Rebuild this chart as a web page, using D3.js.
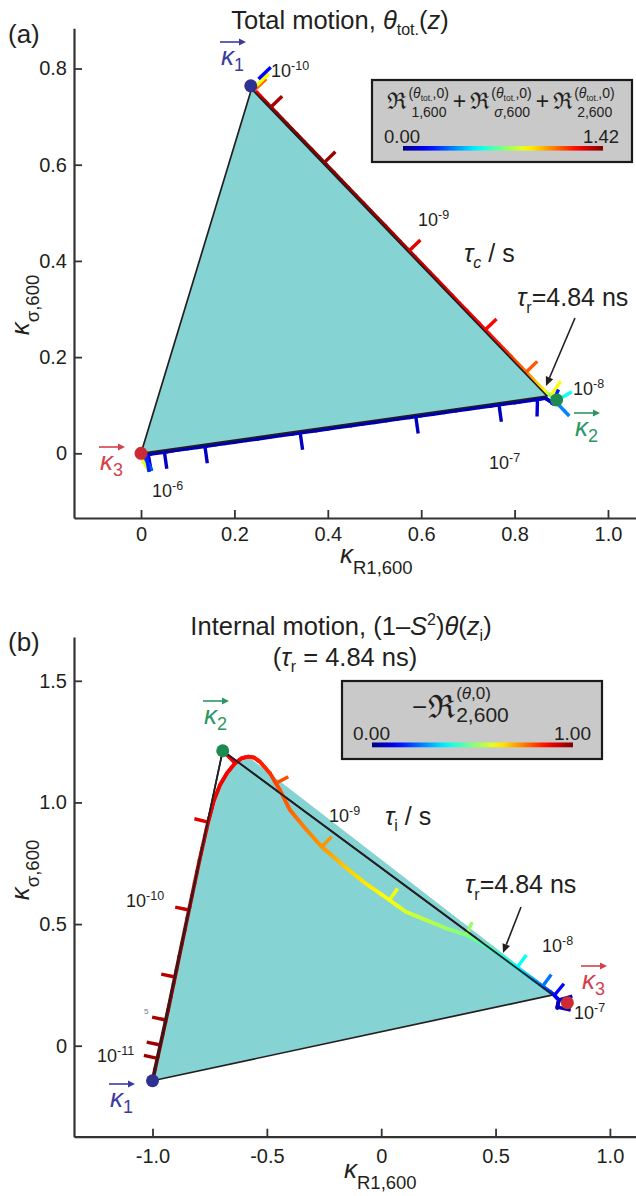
<!DOCTYPE html>
<html><head><meta charset="utf-8">
<script src="https://cdn.jsdelivr.net/npm/d3@7"></script>
<style>
body{margin:0;background:#fff;}
svg{display:block;font-family:"Liberation Sans",Arial,Helvetica,sans-serif;}
text{white-space:pre;}
</style></head><body>
<svg id="fig" width="636" height="1196"></svg>
<script>
// ---------- panel (a): total motion ----------
const aXTicks = [0, 0.2, 0.4, 0.6, 0.8, 1.0];
const aYTicks = [0, 0.2, 0.4, 0.6, 0.8];
// triangle corners [kR1, kSigma]
const aCorners = [[0.2366, 0.7575], [0.8694, 0.1191], [0, 0]];
// kappa vectors k1, k2, k3
const aKappa = [[0.235, 0.764], [0.890, 0.111], [0.0, 0.0]];
// tau_c trajectory [kR1, kSigma, R1 + Rsigma + R2]
const aPath = [
  [0.2386, 0.7595, 1.20], [0.2702, 0.7276, 1.36], [0.3335, 0.6637, 1.41], [0.4285, 0.5680, 1.40],
  [0.5234, 0.4722, 1.37], [0.6183, 0.3764, 1.32], [0.7132, 0.2807, 1.26], [0.7765, 0.2168, 1.20],
  [0.8208, 0.1722, 1.10], [0.8461, 0.1467, 0.98], [0.862, 0.131, 0.92], [0.874, 0.122, 0.80],
  [0.884, 0.116, 0.62], [0.891, 0.110, 0.45], [0.892, 0.103, 0.30], [0.884, 0.1035, 0.16],
  [0.866, 0.1145, 0.09], [0.80, 0.1056, 0.07], [0.65, 0.0851, 0.06], [0.50, 0.0645, 0.06],
  [0.35, 0.0440, 0.06], [0.20, 0.0234, 0.06], [0.08, 0.0070, 0.07], [0.01, -0.0028, 0.09],
  [0.004, -0.006, 0.15]
];
// tau_c tick marks on the trajectory [kR1, kSigma, value]
const aTicks = [
  [0.242, 0.754, 1.10], [0.2473, 0.7647, 0.88], [0.2516, 0.7782, 0.18],
  [0.276, 0.718, 1.36], [0.390, 0.6023, 1.38], [0.572, 0.419, 1.28], [0.735, 0.2547, 1.24],
  [0.8223, 0.1666, 1.12], [0.878, 0.121, 0.88], [0.891, 0.110, 0.55], [0.892, 0.103, 0.36],
  [0.879, 0.1005, 0.22], [0.849, 0.112, 0.12], [0.7666, 0.1008, 0.09], [0.5884, 0.0764, 0.09],
  [0.3409, 0.0425, 0.09], [0.1368, 0.0145, 0.09], [0.0501, 0.0027, 0.09], [0.0155, -0.002, 0.12],
  [-0.002, -0.004, 0.85], [0.006, -0.005, 0.30], [0.011, -0.004, 0.22]
];
const aRange = [0.00, 1.42];

// ---------- panel (b): internal motion ----------
const bXTicks = [-1.0, -0.5, 0, 0.5, 1.0];
const bYTicks = [0, 0.5, 1.0, 1.5];
const bCorners = [[-1.0, -0.144], [-0.693, 1.2125], [0.7512, 0.2088]];
const bKappa = [[-1.0, -0.144], [-0.693, 1.2125], [0.814, 0.177]];
// tau_i trajectory [kR1, kSigma, -R2]
const bPath = [
  [-1.0, -0.144, 1.00], [-0.932, 0.1467, 0.99], [-0.859, 0.4755, 0.97], [-0.7945, 0.763, 0.93],
  [-0.758, 0.915, 0.91], [-0.731, 1.010, 0.89], [-0.705, 1.0715, 0.885], [-0.674, 1.121, 0.88],
  [-0.639, 1.161, 0.875], [-0.609, 1.1825, 0.87], [-0.581, 1.188, 0.865], [-0.556, 1.1845, 0.86],
  [-0.530, 1.167, 0.85], [-0.486, 1.1196, 0.83], [-0.443, 1.051, 0.80], [-0.399, 0.969, 0.78],
  [-0.326, 0.8865, 0.75], [-0.260, 0.818, 0.73], [-0.2094, 0.777, 0.71], [-0.159, 0.7357, 0.68],
  [-0.0708, 0.6687, 0.65], [0.0363, 0.5988, 0.62], [0.1071, 0.5508, 0.59], [0.1959, 0.5166, 0.56],
  [0.2842, 0.4825, 0.53], [0.373, 0.455, 0.50], [0.4617, 0.4098, 0.45], [0.5326, 0.3648, 0.41],
  [0.607, 0.3114, 0.36], [0.6944, 0.2518, 0.26], [0.7512, 0.2128, 0.16], [0.777, 0.1878, 0.09],
  [0.769, 0.155, 0.06]
];
const bTicks = [
  [-0.978, -0.0518, 0.97], [-0.9655, 0.0029, 0.97], [-0.9418, 0.1056, 0.96], [-0.902, 0.2824, 0.95],
  [-0.8408, 0.5577, 0.93], [-0.7573, 0.9194, 0.90], [-0.639, 1.161, 0.89], [-0.46, 1.0784, 0.80],
  [-0.2602, 0.8179, 0.73], [0.0363, 0.5988, 0.62], [0.373, 0.455, 0.52], [0.5982, 0.3268, 0.38],
  [0.7075, 0.2466, 0.24], [0.7599, 0.2104, 0.13], [0.777, 0.188, 0.08], [0.769, 0.159, 0.05]
];
// upper edge of the shaded region beyond the trajectory's crest
const bFillEdge = [[-0.575, 1.183], [0.7512, 0.22]];
const bRange = [0.00, 1.00];

const INK = "#231f20";
const CYAN = "#86d3d4";
const svg = d3.select("#fig");

function jet(t) {
  t = Math.max(0, Math.min(1, t));
  const c = v => Math.round(255 * Math.max(0, Math.min(1, v)));
  return `rgb(${c(1.5 - Math.abs(4 * t - 3))},${c(1.5 - Math.abs(4 * t - 2))},${c(1.5 - Math.abs(4 * t - 1))})`;
}

// text with sub/superscript runs: segs = [text, size, baseline offset, italic, family]
function rich(g, x, y, anchor, segs, fill) {
  const t = g.append("text").attr("x", x).attr("y", y).attr("text-anchor", anchor).attr("fill", fill || INK);
  let cur = 0;
  segs.forEach(s => {
    const [txt, size, off = 0, it = false, fam = null] = s;
    const sp = t.append("tspan").attr("font-size", size).attr("dy", off - cur).text(txt);
    if (it) sp.attr("font-style", "italic");
    if (fam) sp.style("font-family", fam);
    cur = off;
  });
  return t;
}

function decade(g, x, y, exp) {
  rich(g, x, y, "start", [["10", 18, 0], [exp, 12.5, -7]]);
}

function kappaLabel(g, x, y, idx, color) {
  g.append("line").attr("x1", x - 1).attr("x2", x + 22).attr("y1", y - 23).attr("y2", y - 23)
    .attr("stroke", color).attr("stroke-width", 1.6);
  g.append("path").attr("d", `M${x + 25},${y - 23}L${x + 18},${y - 26.5}L${x + 18},${y - 19.5}Z`).attr("fill", color);
  rich(g, x, y, "start", [["κ", 26, 0, true], [idx, 18, 6]], color);
}

function arrow(g, sx, sy, p0, p1) {
  const x0 = sx(p0[0]), y0 = sy(p0[1]), x1 = sx(p1[0]), y1 = sy(p1[1]);
  const dx = x1 - x0, dy = y1 - y0, L = Math.hypot(dx, dy), ux = dx / L, uy = dy / L;
  const hx = x1 - ux * 9, hy = y1 - uy * 9;
  g.append("line").attr("x1", x0).attr("y1", y0).attr("x2", hx).attr("y2", hy).attr("stroke", INK).attr("stroke-width", 1.6);
  g.append("path").attr("d", `M${x1},${y1}L${hx - uy * 4},${hy + ux * 4}L${hx + uy * 4},${hy - ux * 4}Z`).attr("fill", INK);
}

function axes(g, sx, sy, xt, yt, xfmt, yfmt, xpad) {
  const xa = d3.axisBottom(sx).tickValues(xt).tickFormat(xfmt).tickSizeInner(-8).tickSizeOuter(0).tickPadding(xpad);
  const ya = d3.axisLeft(sy).tickValues(yt).tickFormat(yfmt).tickSizeInner(-8).tickSizeOuter(0).tickPadding(7);
  const gx = g.append("g").attr("transform", `translate(0,${sy.range()[0]})`).call(xa);
  const gy = g.append("g").attr("transform", `translate(${sx.range()[0]},0)`).call(ya);
  [gx, gy].forEach(a => {
    a.select(".domain").attr("stroke", "#333").attr("stroke-width", 2.2);
    a.selectAll(".tick line").attr("stroke", "#333").attr("stroke-width", 1.8);
    a.selectAll(".tick text").attr("font-size", 20).attr("fill", INK)
      .style("font-family", '"Liberation Sans",Arial,sans-serif');
  });
}

function colourPath(g, sx, sy, path, vmax, width) {
  for (let i = 0; i < path.length - 1; i++) {
    const a = path[i], b = path[i + 1], n = 6;
    for (let k = 0; k < n; k++) {
      const t0 = k / n, t1 = (k + 1) / n;
      const v = a[2] + (b[2] - a[2]) * (t0 + t1) / 2;
      g.append("line")
        .attr("x1", sx(a[0] + (b[0] - a[0]) * t0)).attr("y1", sy(a[1] + (b[1] - a[1]) * t0))
        .attr("x2", sx(a[0] + (b[0] - a[0]) * t1)).attr("y2", sy(a[1] + (b[1] - a[1]) * t1))
        .attr("stroke", jet(v / vmax)).attr("stroke-width", width).attr("stroke-linecap", "round");
    }
  }
}

function ticks(g, sx, sy, path, corners, list, vmax, len, width) {
  const P = path.map(p => [sx(p[0]), sy(p[1])]);
  const C = corners.map(p => [sx(p[0]), sy(p[1])]);
  const cx = d3.mean(C, d => d[0]), cy = d3.mean(C, d => d[1]);
  list.forEach(t => {
    const bx = sx(t[0]), by = sy(t[1]);
    let best = 0, bd = Infinity;
    P.forEach((p, i) => { const d = (p[0] - bx) ** 2 + (p[1] - by) ** 2; if (d < bd) { bd = d; best = i; } });
    const i0 = Math.max(0, best - 1), i1 = Math.min(P.length - 1, best + 1);
    let dx = P[i1][0] - P[i0][0], dy = P[i1][1] - P[i0][1];
    const L = Math.hypot(dx, dy); dx /= L; dy /= L;
    let nx = -dy, ny = dx;
    if (nx * (bx - cx) + ny * (by - cy) < 0) { nx = -nx; ny = -ny; }
    g.append("line").attr("x1", bx).attr("y1", by).attr("x2", bx + nx * len).attr("y2", by + ny * len)
      .attr("stroke", jet(t[2] / vmax)).attr("stroke-width", width);
  });
}

function colourbar(g, id, x0, x1, y, h) {
  const grad = svg.append("defs").append("linearGradient").attr("id", id);
  d3.range(0, 1.0001, 0.05).forEach(t => grad.append("stop").attr("offset", t).attr("stop-color", jet(t)));
  g.append("rect").attr("x", x0).attr("y", y).attr("width", x1 - x0).attr("height", h).attr("fill", `url(#${id})`);
}

function triangle(g, sx, sy, corners) {
  g.append("path").attr("d", d3.line().x(d => sx(d[0])).y(d => sy(d[1]))(corners) + "Z")
    .attr("fill", "none").attr("stroke", INK).attr("stroke-width", 1.7).attr("stroke-linejoin", "round");
}

const KCOL = ["#2e3192", "#1d8a4f", "#cc2b36"];
const KLAB = ["#3b3b9e", "#2b9760", "#d4404c"];
function dots(g, sx, sy, kap) {
  kap.forEach((k, i) => g.append("circle").attr("cx", sx(k[0])).attr("cy", sy(k[1])).attr("r", 6.5).attr("fill", KCOL[i]));
}

// tick labels written with a plain hyphen, as in the printed axes
const fmtTick = d => d === 0 ? "0" : d3.format(".1f")(d).replace("−", "-");

// ================= panel (a) =================
{
  const g = svg.append("g");
  const sx = d3.scaleLinear().domain([-0.1435, 1.0589]).range([74, 635.5]);
  const sy = d3.scaleLinear().domain([-0.1345, 0.8836]).range([518, 28.3]);

  g.append("path").attr("d", d3.line().x(d => sx(d[0])).y(d => sy(d[1]))(aCorners) + "Z").attr("fill", CYAN);
  colourPath(g, sx, sy, aPath, aRange[1], 3.8);
  ticks(g, sx, sy, aPath, aCorners, aTicks, aRange[1], 17, 3.4);
  triangle(g, sx, sy, aCorners);
  arrow(g, sx, sy, [0.9293, 0.2813], [0.8672, 0.140]);
  dots(g, sx, sy, aKappa);
  axes(g, sx, sy, aXTicks, aYTicks, fmtTick, fmtTick, 9);

  rich(g, 8, 43, "start", [["(a)", 26]]);
  rich(g, 340, 29, "middle", [["Total motion, ", 25.5], ["θ", 25.5, 0, true], ["tot.", 16, 6], ["(", 25.5, 0], ["z", 25.5, 0, true], [")", 25.5, 0]]);

  kappaLabel(g, 221, 65, "1", KLAB[0]);
  kappaLabel(g, 575, 436, "2", KLAB[1]);
  kappaLabel(g, 100, 470, "3", KLAB[2]);

  decade(g, 271, 77, "-10");
  decade(g, 418, 226, "-9");
  decade(g, 573, 395, "-8");
  decade(g, 489, 469, "-7");
  decade(g, 152, 497, "-6");

  rich(g, 464, 262, "start", [["τ", 25, 0, true], ["c", 16, 6, true], [" / s", 25, 0]]);
  rich(g, 517, 306, "start", [["τ", 25, 0, true], ["r", 16, 7], ["=4.84 ns", 25, 0]]);

  rich(g, 340, 563, "start", [["κ", 26, 0, true], ["R1,600", 18.5, 11]]);
  rich(g.append("g").attr("transform", "rotate(-90)"), -305, 29, "middle", [["κ", 26, 0, true], ["σ,600", 18.5, 10]]);

  // legend
  const lg = g.append("g");
  lg.append("rect").attr("x", 372).attr("y", 80).attr("width", 260).attr("height", 82)
    .attr("fill", "#c9c9c9").attr("stroke", "#1a1a1a").attr("stroke-width", 2.2);
  const f = lg.append("g");
  let x = 0;
  const subs = [[["1,600", 14]], [["σ", 14, 0, true], [",600", 14]], [["2,600", 14]]];
  subs.forEach((sb, i) => {
    if (i > 0) {
      const p = rich(f, x + 4, 109, "start", [["+", 23]]);
      x += 4 + p.node().getComputedTextLength() + 4;
    }
    const r = f.append("text").attr("x", x).attr("y", 109).attr("font-size", 23).attr("fill", INK)
      .style("font-family", '"DejaVu Serif",serif').text("ℜ");
    const w = r.node().getComputedTextLength() + 1;
    const s1 = rich(f, x + w, 98, "start", [["(", 14], ["θ", 14, 0, true], ["tot.", 8.5, 3], [",0)", 14, 0]]);
    const s2 = rich(f, x + w + 3, 117, "start", sb);
    x += w + Math.max(s1.node().getComputedTextLength(), s2.node().getComputedTextLength() + 3);
  });
  f.attr("transform", `translate(${501 - x / 2},0)`);
  rich(lg, 384, 143, "start", [["0.00", 18.5]]);
  rich(lg, 619, 143, "end", [["1.42", 18.5]]);
  colourbar(lg, "cbA", 403, 603, 146, 4.6);
}

// ================= panel (b) =================
{
  const g = svg.append("g");
  const sx = d3.scaleLinear().domain([-1.3433, 1.1141]).range([74, 636]);
  const sy = d3.scaleLinear().domain([-0.374, 1.680]).range([1136.7, 637]);

  const fillPts = bPath.slice(0, 11).map(d => [d[0], d[1]]).concat(bFillEdge, [bCorners[2]]);
  g.append("path").attr("d", d3.line().x(d => sx(d[0])).y(d => sy(d[1]))(fillPts) + "Z").attr("fill", CYAN);
  triangle(g, sx, sy, bCorners);
  colourPath(g, sx, sy, bPath, bRange[1], 3.8);
  ticks(g, sx, sy, bPath, bCorners, bTicks, bRange[1], 14, 3.4);
  // black edges redrawn where they overlie the trajectory
  g.append("line").attr("x1", sx(bCorners[0][0])).attr("y1", sy(bCorners[0][1]))
    .attr("x2", sx(bCorners[1][0])).attr("y2", sy(bCorners[1][1])).attr("stroke", INK).attr("stroke-width", 1.7);
  g.append("line").attr("x1", sx(bCorners[1][0])).attr("y1", sy(bCorners[1][1]))
    .attr("x2", sx(bCorners[2][0])).attr("y2", sy(bCorners[2][1])).attr("stroke", INK).attr("stroke-width", 1.7);
  arrow(g, sx, sy, [0.6113, 0.5705], [0.5326, 0.381]);
  dots(g, sx, sy, bKappa);
  axes(g, sx, sy, bXTicks, bYTicks, fmtTick, fmtTick, 12);

  rich(g, 8, 651, "start", [["(b)", 26]]);
  rich(g, 341, 635, "middle", [["Internal motion, (1–", 25.5], ["S", 25.5, 0, true], ["2", 16, -10], [")", 25.5, 0], ["θ", 25.5, 0, true], ["(", 25.5, 0], ["z", 25.5, 0, true], ["i", 16, 6], [")", 25.5, 0]]);
  rich(g, 345, 666, "middle", [["(", 25.5], ["τ", 25.5, 0, true], ["r", 16, 6], [" = 4.84 ns)", 25.5, 0]]);

  kappaLabel(g, 204, 724, "2", KLAB[1]);
  kappaLabel(g, 110, 1107, "1", KLAB[0]);
  kappaLabel(g, 582, 989, "3", KLAB[2]);

  decade(g, 97, 1062, "-11");
  decade(g, 126, 907, "-10");
  decade(g, 329, 822, "-9");
  decade(g, 542, 952, "-8");
  decade(g, 574, 1019, "-7");
  g.append("text").attr("x", 144).attr("y", 1014).attr("font-size", 8).attr("fill", "#777").text("5");

  rich(g, 385, 825, "start", [["τ", 25, 0, true], ["i", 16, 6], [" / s", 25, 0]]);
  rich(g, 465, 893, "start", [["τ", 25, 0, true], ["r", 16, 7], ["=4.84 ns", 25, 0]]);

  rich(g, 344, 1178, "start", [["κ", 26, 0, true], ["R1,600", 18.5, 11]]);
  rich(g.append("g").attr("transform", "rotate(-90)"), -870, 29, "middle", [["κ", 26, 0, true], ["σ,600", 18.5, 10]]);

  const lg = g.append("g");
  lg.append("rect").attr("x", 342).attr("y", 681).attr("width", 260).attr("height", 78)
    .attr("fill", "#c9c9c9").attr("stroke", "#1a1a1a").attr("stroke-width", 2.2);
  const m = rich(lg, 412, 716, "start", [["−", 26]]);
  const mx = 412 + m.node().getComputedTextLength() + 1;
  const r = lg.append("text").attr("x", mx).attr("y", 718).attr("font-size", 32).attr("fill", INK)
    .style("font-family", '"DejaVu Serif",serif').text("ℜ");
  const rw = r.node().getComputedTextLength() + 1;
  rich(lg, mx + rw, 699, "start", [["(", 17], ["θ", 17, 0, true], [",0)", 17]]);
  rich(lg, mx + rw, 722, "start", [["2,600", 21]]);
  rich(lg, 353, 740, "start", [["0.00", 19]]);
  rich(lg, 591, 740, "end", [["1.00", 19]]);
  colourbar(lg, "cbB", 372, 573, 742.5, 4.8);
}
</script>
</body></html>
